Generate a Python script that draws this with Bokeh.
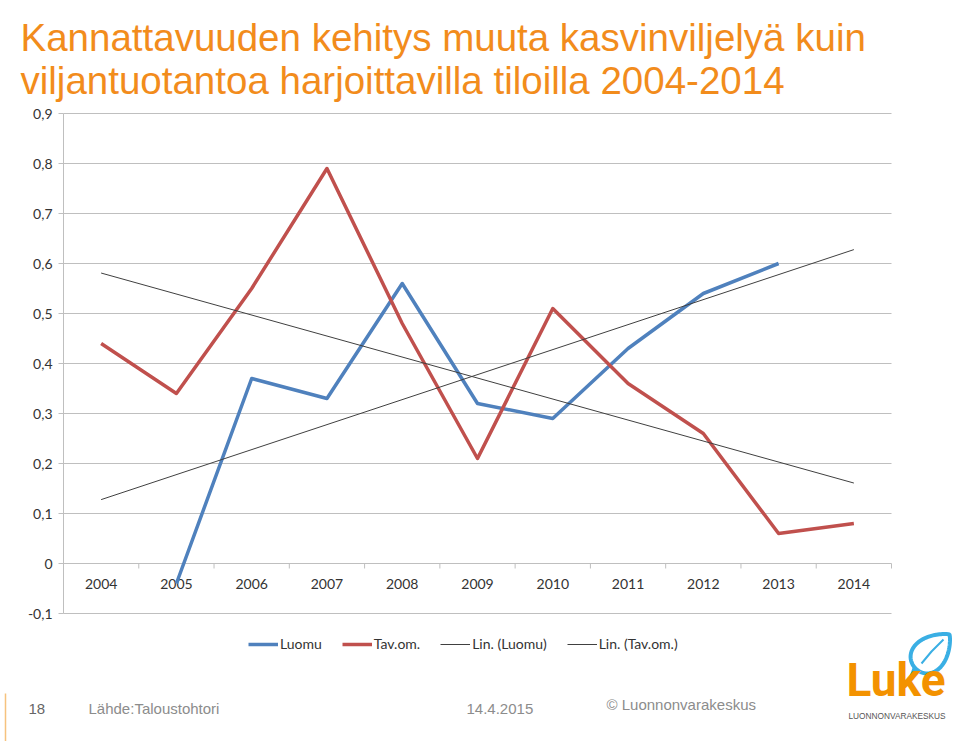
import numpy as np
from bokeh.plotting import figure
from bokeh.models import Range1d, Legend, LegendItem
from bokeh.core.properties import value
from bokeh.embed import file_html
from bokeh.resources import INLINE

# ---------------- data ----------------
years = ["2004", "2005", "2006", "2007", "2008", "2009",
         "2010", "2011", "2012", "2013", "2014"]
luomu = [np.nan, -0.04, 0.37, 0.33, 0.56, 0.32, 0.29, 0.43, 0.54, 0.60, np.nan]
tavom = [0.44, 0.34, 0.55, 0.79, 0.48, 0.21, 0.51, 0.36, 0.26, 0.06, 0.08]
y_ticks = [-0.1, 0.0, 0.1, 0.2, 0.3, 0.4, 0.5, 0.6, 0.7, 0.8, 0.9]
series_names = ["Luomu", "Tav.om.", "Lin. (Luomu)", "Lin. (Tav.om.)"]
title_lines = ["Kannattavuuden kehitys muuta kasvinviljelyä kuin",
               "viljantuotantoa harjoittavilla tiloilla 2004-2014"]
footer_page = "18"
footer_source = "Lähde:Taloustohtori"
footer_date = "14.4.2015"
footer_copy = "© Luonnonvarakeskus"
logo_name = "Luke"
logo_sub = "LUONNONVARAKESKUS"

# ---------------- layout (pixels) ----------------
W, H = 960, 741
FL, FR, FT, FB = 63, 891, 113, 613        # plot area edges
n = len(years)
ppx = (FR - FL) / n                       # px per category
ppy = (FB - FT) / (y_ticks[-1] - y_ticks[0])
x0 = -0.5 - FL / ppx
y_top = y_ticks[-1] + FT / ppy


def X(px):
    return x0 + np.asarray(px, dtype=float) / ppx


def Y(py):
    return y_top - np.asarray(py, dtype=float) / ppy


# ---------------- derived ----------------
idx = np.arange(n, dtype=float)
bounds = np.arange(n + 1) - 0.5
lu = np.array(luomu, dtype=float)
tv = np.array(tavom, dtype=float)
m = ~np.isnan(lu)
k1, b1 = np.polyfit(idx[m], lu[m], 1)
k2, b2 = np.polyfit(idx, tv, 1)
tx = np.array([idx[0], idx[-1]])
tick_labels = ["0" if abs(t) < 1e-9 else f"{t:.1f}".replace(".", ",") for t in y_ticks]

ORANGE = "#F28C1C"
BLUE = "#4F81BD"
RED = "#C0504D"
GRID = "#BFBFBF"
TXT = "#333333"
FONT = "Lato"
SANS = "Liberation Sans"

p = figure(width=W, height=H, output_backend="svg", toolbar_location=None,
           x_range=Range1d(x0, x0 + W / ppx), y_range=Range1d(y_top - H / ppy, y_top),
           x_axis_location=None, y_axis_location=None, title=None,
           min_border=0, min_border_left=0, min_border_right=0,
           min_border_top=0, min_border_bottom=0)
p.outline_line_color = None
p.background_fill_color = "white"
p.border_fill_color = "white"
p.xgrid.visible = False
p.ygrid.visible = False

xl, xr = bounds[0], bounds[-1]
# horizontal grid lines
p.segment(x0=xl, x1=xr, y0=y_ticks, y1=y_ticks, line_color=GRID, line_width=1)
# value axis
p.segment(x0=xl, x1=xl, y0=y_ticks[0], y1=y_ticks[-1], line_color=GRID, line_width=1)
p.ray(x=xl, y=y_ticks, length=5, length_units="screen", angle=np.pi,
      line_color=GRID, line_width=1)
p.text(x=xl, y=y_ticks, text=tick_labels, x_offset=-11, text_align="right",
       text_baseline="middle", text_font=value(FONT), text_font_size="14px",
       text_color=TXT)
# category axis at zero
p.ray(x=bounds, y=0, length=5, length_units="screen", angle=-np.pi / 2,
      line_color=GRID, line_width=1)
p.text(x=idx, y=0, text=years, y_offset=20, text_align="center",
       text_baseline="middle", text_font=value(FONT), text_font_size="14px",
       text_color=TXT)

# series
r1 = p.line(idx, lu, line_color=BLUE, line_width=3.5, line_join="round")
r2 = p.line(idx, tv, line_color=RED, line_width=3.5, line_join="round")
r3 = p.line(tx, k1 * tx + b1, line_color="#404040", line_width=1)
r4 = p.line(tx, k2 * tx + b2, line_color="#404040", line_width=1)

legend = Legend(items=[LegendItem(label=series_names[0], renderers=[r1]),
                       LegendItem(label=series_names[1], renderers=[r2]),
                       LegendItem(label=series_names[2], renderers=[r3]),
                       LegendItem(label=series_names[3], renderers=[r4])],
                orientation="horizontal", location=(248, H - 652),
                glyph_width=30, glyph_height=16, label_height=16,
                label_standoff=2, spacing=20, padding=0, margin=0,
                border_line_color=None, background_fill_alpha=0,
                label_text_font=FONT, label_text_font_size="14px",
                label_text_color=TXT)
p.add_layout(legend)

# title
p.text(x=X([20, 20]), y=Y([37, 80]), text=title_lines,
       text_font=value(SANS), text_font_size="38.5px", text_color=ORANGE,
       text_baseline="alphabetic", text_align="left")

# footer
FOOT = "#8C8C8C"
p.segment(x0=X(5), x1=X(5), y0=Y(693), y1=Y(741), line_color="#F6C27E", line_width=1.5)
p.text(x=X([28, 88, 466]), y=Y([708, 708, 708]),
       text=[footer_page, footer_source, footer_date],
       text_font=value(SANS), text_font_size="15px",
       text_color=["#666666", FOOT, FOOT], text_baseline="middle")
p.text(x=X([606]), y=Y([704]), text=[footer_copy],
       text_font=value(SANS), text_font_size="15px",
       text_color=FOOT, text_baseline="middle")

# logo
th = np.linspace(0, 2 * np.pi, 90)
s = np.cos(th)
t = 0.85 * np.sin(th) * ((1 - np.cos(th)) / 2) ** 0.35
ux, uy, vx, vy = 0.707, -0.707, 0.707, 0.707
cx, cy, R = 932, 651, 24
lpx = cx + R * (s * ux + t * vx)
lpy = cy + R * (s * uy + t * vy)
p.patch(X([916, 909, 922]), Y([659, 679, 667]), fill_color="#3AAFE4",
        line_color="#3AAFE4", line_width=2)
p.patch(X(lpx), Y(lpy), fill_color="white", line_color="#3AAFE4", line_width=4)
p.line(X([921, 931, 943]), Y([663, 651, 639]), line_color="#3AAFE4", line_width=2)
p.text(x=X([846]), y=Y([706]), text=[logo_name], text_font=value("Roboto"),
       text_font_style="bold", text_font_size="46px", text_color="#F39200",
       text_baseline="bottom")
p.text(x=X([848]), y=Y([715]), text=[logo_sub], text_font=value(SANS),
       text_font_size="8.3px", text_color="#555555", text_baseline="middle")

open("out.html", "w").write(file_html(p, INLINE))
